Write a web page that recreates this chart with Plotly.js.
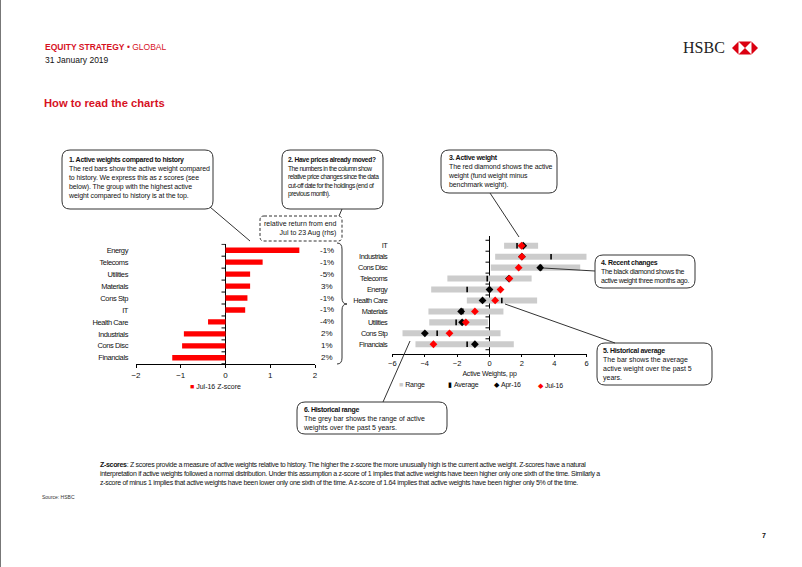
<!DOCTYPE html>
<html><head><meta charset="utf-8">
<script src="https://cdn.plot.ly/plotly-3.0.1.min.js"></script>
<style>html,body{margin:0;padding:0;background:#fff;}#chart{width:802px;height:567px;}</style>
</head><body><div id="chart"></div>
<script>
// ---------- Left chart data (z-scores) ----------
const zCategories = ['Energy','Telecoms','Utilities','Materials','Cons Stp','IT','Health Care','Industrials','Cons Disc','Financials'];
const zScores = [1.65, 0.83, 0.55, 0.55, 0.49, 0.44, -0.39, -0.93, -0.97, -1.19];
const relReturn = ['-1%','-1%','-5%','3%','-1%','-1%','-4%','2%','1%','2%'];
const zTicks = [-2, -1, 0, 1, 2];
const zSeriesName = 'Jul-16 Z-score';

// ---------- Right chart data (active weights, pp) ----------
const awCategories = ['IT','Industrials','Cons Disc','Telecoms','Energy','Health Care','Materials','Utilities','Cons Stp','Financials'];
const rangeMin = [0.9, 0.35, 0.08, -2.6, -3.6, -1.4, -3.77, -3.72, -5.37, -4.57];
const rangeMax = [3.0, 6.0, 5.6, 2.6, 0.7, 2.94, 0.86, -0.1, 0.68, 1.5];
const average  = [1.7, 3.8, 3.2, -0.14, -1.38, 0.76, -1.65, -2.06, -3.23, -1.38];
const apr16    = [2.08, 2.0, 3.13, 1.2, 0.0, -0.43, -1.75, -1.69, -3.99, -0.9];
const jul16    = [1.98, 2.0, 1.8, 1.23, 0.68, 0.35, -0.9, -1.46, -2.47, -3.46];
const awTicks = [-6, -4, -2, 0, 2, 4, 6];

// ---------- helpers ----------
const W = 802, H = 567;
const X = px => px / W;
const Y = py => 1 - py / H;
const SANS = '"Liberation Sans", Arial, sans-serif';
const RED = '#ff0000';
const HSBC_RED = '#d7121f';
const GREY = '#cccccc';
const INK = '#111';

function tight(text, ls) {
  return text.split('<br>').map(l => `<span style="letter-spacing:${ls}px">${l}</span>`).join('<br>');
}
function rrect(x0, y0, x1, y1, r) {
  return `M${X(x0+r)},${Y(y0)} L${X(x1-r)},${Y(y0)} Q${X(x1)},${Y(y0)} ${X(x1)},${Y(y0+r)} ` +
         `L${X(x1)},${Y(y1-r)} Q${X(x1)},${Y(y1)} ${X(x1-r)},${Y(y1)} L${X(x0+r)},${Y(y1)} ` +
         `Q${X(x0)},${Y(y1)} ${X(x0)},${Y(y1-r)} L${X(x0)},${Y(y0+r)} Q${X(x0)},${Y(y0)} ${X(x0+r)},${Y(y0)} Z`;
}
function poly(pts) {
  return 'M' + pts.map(p => `${X(p[0])},${Y(p[1])}`).join(' L') + ' Z';
}

const L_X = [136, 315], L_Y = [243.7, 364.3];
const R_X = [392.3, 586.7], R_Y = [236.1, 353.9];

// ---------- traces ----------
const traces = [
  { type: 'bar', orientation: 'h', x: zScores, y: zCategories, name: zSeriesName,
    marker: { color: RED }, width: 0.45, xaxis: 'x', yaxis: 'y', hoverinfo: 'skip' },
  { type: 'bar', orientation: 'h', x: rangeMax.map((v, i) => v - rangeMin[i]), base: rangeMin,
    y: awCategories, name: 'Range', marker: { color: GREY }, width: 0.55,
    xaxis: 'x2', yaxis: 'y2', hoverinfo: 'skip' },
  { type: 'scatter', mode: 'markers', x: average, y: awCategories, name: 'Average',
    marker: { symbol: 'line-ns', size: 4, color: '#000', line: { color: '#000', width: 1.6 } },
    xaxis: 'x2', yaxis: 'y2', hoverinfo: 'skip' },
  { type: 'scatter', mode: 'markers', x: apr16, y: awCategories, name: 'Apr-16',
    marker: { symbol: 'diamond', size: 6, color: '#000' }, xaxis: 'x2', yaxis: 'y2', hoverinfo: 'skip' },
  { type: 'scatter', mode: 'markers', x: jul16, y: awCategories, name: 'Jul-16',
    marker: { symbol: 'diamond', size: 6, color: RED }, xaxis: 'x2', yaxis: 'y2', hoverinfo: 'skip' }
];

// ---------- shapes ----------
const shapes = [];
const boxLine = { color: '#333', width: 1 };
shapes.push({ type: 'line', xref: 'paper', yref: 'paper', x0: X(0.5), x1: X(0.5), y0: 0, y1: 1, line: { color: '#777', width: 1 } });

function zeroTicks(dom, range, n, yref) {
  const zx = dom[0] + (0 - range[0]) / (range[1] - range[0]) * (dom[1] - dom[0]);
  for (let i = 0; i <= n; i++) {
    shapes.push({ type: 'line', xref: 'paper', yref: yref, x0: X(zx - 4), x1: X(zx), y0: i - 0.5, y1: i - 0.5,
      line: { color: '#000', width: 1 } });
  }
}
zeroTicks(L_X, [-2, 2], zCategories.length, 'y');
zeroTicks(R_X, [-6, 6], awCategories.length, 'y2');

const boxes = [[62,150,213,209],[282,150,383,209],[441,150,557,193],[595,255,695,288],[597,343,712,385],[297,402,447,434]];
boxes.forEach(b => shapes.push({ type: 'path', xref: 'paper', yref: 'paper', path: rrect(b[0], b[1], b[2], b[3], 8), line: boxLine, fillcolor: 'rgba(0,0,0,0)' }));
shapes.push({ type: 'path', xref: 'paper', yref: 'paper', path: rrect(260, 216, 342, 241, 4), line: { color: '#333', width: 1, dash: '3px,2px' }, fillcolor: 'rgba(0,0,0,0)' });
const pointers = [[210,207,250,241],[342,209,339,216],[490,193,519,237],[543,268,595,271],[505,304,615,343],[410,341,383,402]];
pointers.forEach(p => shapes.push({ type: 'line', xref: 'paper', yref: 'paper', x0: X(p[0]), y0: Y(p[1]), x1: X(p[2]), y1: Y(p[3]), line: boxLine }));
shapes.push({ type: 'path', xref: 'paper', yref: 'paper',
  path: `M${X(337)},${Y(243)} Q${X(342)},${Y(243)} ${X(342)},${Y(249)} L${X(342)},${Y(298)} Q${X(342)},${Y(304)} ${X(347)},${Y(304)} Q${X(342)},${Y(304)} ${X(342)},${Y(310)} L${X(342)},${Y(358)} Q${X(342)},${Y(364)} ${X(337)},${Y(364)}`,
  line: { color: '#333', width: 1 } });
(function () {
  const cx = 745, cy = 48, h = 6.5;
  const red = { type: 'path', xref: 'paper', yref: 'paper', fillcolor: '#db0011', line: { width: 0 } };
  shapes.push(Object.assign({}, red, { path: poly([[cx-2*h,cy],[cx-h,cy-h],[cx-h,cy+h]]) }));
  shapes.push(Object.assign({}, red, { path: poly([[cx+2*h,cy],[cx+h,cy-h],[cx+h,cy+h]]) }));
  shapes.push(Object.assign({}, red, { path: poly([[cx-h,cy-h],[cx+h,cy-h],[cx,cy]]) }));
  shapes.push(Object.assign({}, red, { path: poly([[cx-h,cy+h],[cx+h,cy+h],[cx,cy]]) }));
})();

// ---------- annotations ----------
const ann = [];
function txt(x, y, text, opts) {
  ann.push(Object.assign({ xref: 'paper', yref: 'paper', x: X(x), y: Y(y), text: text, showarrow: false,
    xanchor: 'left', yanchor: 'middle', align: 'left', font: { family: SANS, size: 7, color: INK } }, opts || {}));
}
txt(43, 47, '<b>EQUITY STRATEGY</b> • GLOBAL', { font: { family: SANS, size: 8.5, color: HSBC_RED } });
txt(43, 60.5, '31 January 2019', { font: { family: SANS, size: 8.5, color: INK } });
txt(42, 103, '<b>How to read the charts</b>', { font: { family: SANS, size: 11.2, color: HSBC_RED } });
txt(704, 47, 'HSBC', { xanchor: 'center', font: { family: '"Liberation Serif", "DejaVu Serif", serif', size: 16, color: '#222' } });

const callouts = [
  [66, 154, '1. Active weights compared to history', 'The red bars show the active weight compared<br>to history. We express this as z scores (see<br>below). The group with the highest active<br>weight compared to history is at the top.', 7, -0.1],
  [286, 154, '2. Have prices already moved?', 'The numbers in the column show<br>relative price changes since the data<br>cut-off date for the holdings (end of<br>previous month).', 6.6, -0.45],
  [446, 152, '3. Active weight', 'The red diamond shows the active<br>weight (fund weight minus<br>benchmark weight).', 7, -0.1],
  [599, 257, '4. Recent changes', 'The black diamond shows the<br>active weight three months ago.', 7, -0.35],
  [601, 345, '5. Historical average', 'The bar shows the average<br>active weight over the past 5<br>years.', 7, 0],
  [301, 404, '6. Historical range', 'The grey bar shows the range of active<br>weights over the past 5 years.', 7, 0]
];
callouts.forEach(c => txt(c[0], c[1], tight('<b>' + c[2] + '</b>', -0.3) + '<br>' + tight(c[3], c[5]),
  { yanchor: 'top', font: { family: SANS, size: c[4], color: INK } }));
txt(338, 228.5, 'relative return from end<br>Jul to 23 Aug (rhs)', { xanchor: 'right', align: 'right' });

zCategories.forEach((c, i) => ann.push({ xref: 'paper', yref: 'y', x: X(326.5), y: c, text: relReturn[i], showarrow: false,
  xanchor: 'center', yanchor: 'middle', font: { family: SANS, size: 8, color: INK } }));

txt(188, 386, `<span style="color:${RED}">■</span> ${zSeriesName}`, { font: { family: SANS, size: 7, color: INK } });
const legendSym = ['■', '▮', '◆', '◆'];
const legendCol = [GREY, '#000', '#000', RED];
const legendX = [397, 446, 492, 536];
traces.slice(1).forEach((t, i) => txt(legendX[i], 385, `<span style="color:${legendCol[i]}">${legendSym[i]}</span> ${tight(t.name, -0.2)}`,
  { font: { family: SANS, size: 7, color: INK } }));

txt(98, 459, tight('<b>Z-scores</b>: Z scores provide a measure of active weights relative to history. The higher the z-score the more unusually high is the current active weight. Z-scores have a natural<br>' +
  'interpretation if active weights followed a normal distribution. Under this assumption a z-score of 1 implies that active weights have been higher only one sixth of the time. Similarly a<br>' +
  'z-score of minus 1 implies that active weights have been lower only one sixth of the time. A z-score of 1.64 implies that active weights have been higher only 5% of the time.', -0.31),
  { yanchor: 'top', font: { family: SANS, size: 7, color: INK } });
txt(40, 497, 'Source: HSBC', { font: { family: SANS, size: 5, color: '#333' } });
txt(760, 535, '<b>7</b>', { font: { family: SANS, size: 7, color: INK } });

// ---------- axes ----------
const layout = {
  width: W, height: H, margin: { l: 0, r: 0, t: 0, b: 0 },
  paper_bgcolor: '#fff', plot_bgcolor: 'rgba(0,0,0,0)', showlegend: false, hovermode: false,
  barmode: 'overlay',
  xaxis: { domain: [X(L_X[0]), X(L_X[1])], range: [-2, 2], anchor: 'y', tickmode: 'array', tickvals: zTicks,
    showline: true, linecolor: '#000', linewidth: 1, ticks: 'outside', ticklen: 3, tickcolor: '#000',
    showgrid: false, zeroline: true, zerolinecolor: '#000', zerolinewidth: 1,
    tickfont: { family: SANS, size: 8, color: INK }, fixedrange: true },
  yaxis: { domain: [Y(L_Y[1]), Y(L_Y[0])], anchor: 'x', type: 'category', categoryorder: 'array', categoryarray: zCategories,
    tickmode: 'array', tickvals: zCategories, ticktext: zCategories.map(c => tight(c, -0.4)),
    autorange: 'reversed', showgrid: false, showline: false, ticks: '', ticklabelstandoff: 7,
    tickfont: { family: SANS, size: 7.5, color: INK }, fixedrange: true },
  xaxis2: { domain: [X(R_X[0]), X(R_X[1])], range: [-6, 6], anchor: 'y2', tickmode: 'array', tickvals: awTicks,
    showline: true, linecolor: '#000', linewidth: 1, ticks: 'outside', ticklen: 2, tickcolor: '#000',
    showgrid: false, zeroline: true, zerolinecolor: '#000', zerolinewidth: 1,
    tickfont: { family: SANS, size: 7.5, color: INK }, fixedrange: true,
    title: { text: tight('Active Weights, pp', -0.2), font: { family: SANS, size: 7, color: INK }, standoff: 4 } },
  yaxis2: { domain: [Y(R_Y[1]), Y(R_Y[0])], anchor: 'x2', type: 'category', categoryorder: 'array', categoryarray: awCategories,
    tickmode: 'array', tickvals: awCategories, ticktext: awCategories.map(c => tight(c, -0.5)),
    autorange: 'reversed', showgrid: false, showline: false, ticks: '', ticklabelstandoff: 4,
    tickfont: { family: SANS, size: 7.4, color: INK }, fixedrange: true },
  shapes: shapes,
  annotations: ann
};

Plotly.newPlot('chart', traces, layout, { staticPlot: true, displayModeBar: false });
</script>
</body></html>
